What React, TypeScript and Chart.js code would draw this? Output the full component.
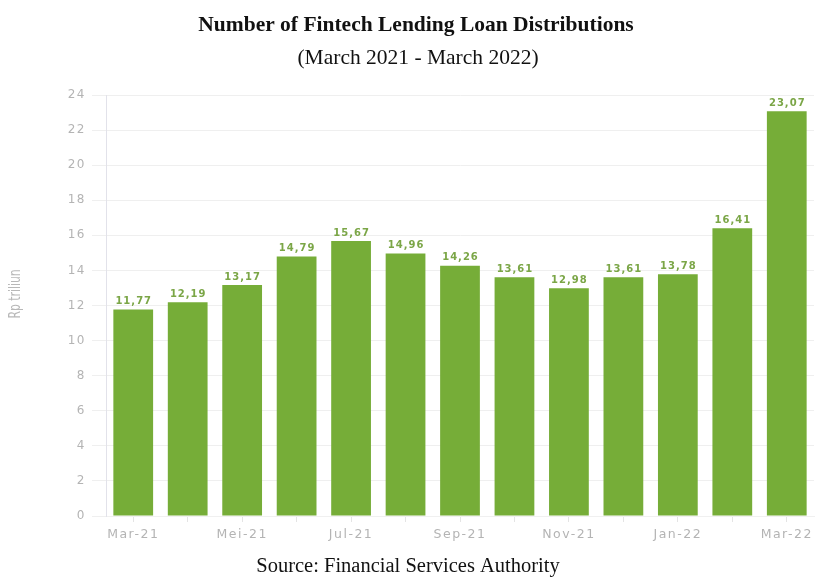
import React, { useEffect, useRef } from "react";
import { Chart, registerables } from "chart.js";

Chart.register(...registerables);

const months = ["Mar-21", "Apr-21", "Mei-21", "Jun-21", "Jul-21", "Agu-21", "Sep-21", "Okt-21", "Nov-21", "Des-21", "Jan-22", "Feb-22", "Mar-22"];
const loans = [11.77, 12.19, 13.17, 14.79, 15.67, 14.96, 14.26, 13.61, 12.98, 13.61, 13.78, 16.41, 23.07];
const titleText = "Number of Fintech Lending Loan Distributions";
const subtitleText = "(March 2021 - March 2022)";
const sourceText = "Source: Financial Services Authority";
const yTitle = "Rp triliun";

const BAR = "#76ad38";
const LABEL_GREEN = "#7ba647";
const TICK_GRAY = "#b4b4b4";

const textPlugin = {
  id: "textPlugin",
  beforeDraw(chart: any) {
    chart.ctx.letterSpacing = "1.5px";
  },
  afterDatasetsDraw(chart: any) {
    const ctx = chart.ctx;
    const meta = chart.getDatasetMeta(0);
    ctx.save();
    ctx.letterSpacing = "1px";
    ctx.font = "bold 10px 'DejaVu Sans', sans-serif";
    ctx.fillStyle = LABEL_GREEN;
    ctx.textAlign = "center";
    ctx.textBaseline = "middle";
    meta.data.forEach((bar: any, i: number) => {
      const v = loans[i].toFixed(2).replace(".", ",");
      ctx.fillText(v, bar.x + 0.5, bar.y - 8);
    });
    ctx.restore();
  },
  afterDraw(chart: any) {
    const ctx = chart.ctx;
    ctx.save();
    ctx.letterSpacing = "0px";
    ctx.textAlign = "center";
    ctx.textBaseline = "middle";
    ctx.fillStyle = "#111";
    ctx.font = "bold 21.5px 'Liberation Serif', serif";
    ctx.fillText(titleText, 416, 25);
    ctx.font = "21.5px 'Liberation Serif', serif";
    ctx.fillText(subtitleText, 418, 58);
    ctx.font = "20.5px 'Liberation Serif', serif";
    ctx.fillText(sourceText, 408, 567);
    ctx.translate(16, 294);
    ctx.rotate(-Math.PI / 2);
    ctx.scale(0.75, 1);
    ctx.fillStyle = "#b8b8b8";
    ctx.font = "16px 'DejaVu Sans Condensed', 'DejaVu Sans', sans-serif";
    ctx.fillText(yTitle, 0, 0);
    ctx.restore();
    ctx.letterSpacing = "0px";
  },
};

export default function App() {
  const ref = useRef<HTMLCanvasElement | null>(null);
  useEffect(() => {
    document.body.style.margin = "0";
    const chart = new Chart(ref.current as HTMLCanvasElement, {
      type: "bar",
      data: {
        labels: months,
        datasets: [
          {
            data: loans,
            backgroundColor: BAR,
            borderWidth: 0,
            categoryPercentage: 1,
            barPercentage: 0.73,
          },
        ],
      },
      options: {
        responsive: false,
        animation: false,
        devicePixelRatio: 1,
        layout: { padding: { top: 95, left: 0, right: 7, bottom: 0 } },
        plugins: { legend: { display: false }, tooltip: { enabled: false }, title: { display: false } },
        scales: {
          x: {
            grid: { drawOnChartArea: false, drawTicks: true, tickLength: 6, color: "#e4e4e4", offset: false },
            border: { display: true, color: "#f0f0f0" },
            ticks: {
              autoSkip: false,
              maxRotation: 0,
              minRotation: 0,
              padding: 5,
              color: TICK_GRAY,
              font: { family: "'DejaVu Sans', sans-serif", size: 12.5 },
              callback: (_v: any, i: number) => (i % 2 === 0 ? months[i] : ""),
            },
            afterFit: (s: any) => {
              s.height = 63;
            },
          },
          y: {
            min: 0,
            max: 24,
            ticks: {
              stepSize: 2,
              padding: 6,
              color: TICK_GRAY,
              font: { family: "'DejaVu Sans', sans-serif", size: 12 },
            },
            grid: { color: "#efefef", tickLength: 14, drawTicks: true },
            border: { display: true, color: "#e2e2ea" },
            afterFit: (s: any) => {
              s.width = 106;
            },
          },
        },
      },
      plugins: [textPlugin],
    });
    return () => chart.destroy();
  }, []);
  return (
    <div style={{ position: "absolute", left: 0, top: 0, width: 821, height: 579, background: "#fff" }}>
      <canvas ref={ref} width={821} height={579} />
    </div>
  );
}
